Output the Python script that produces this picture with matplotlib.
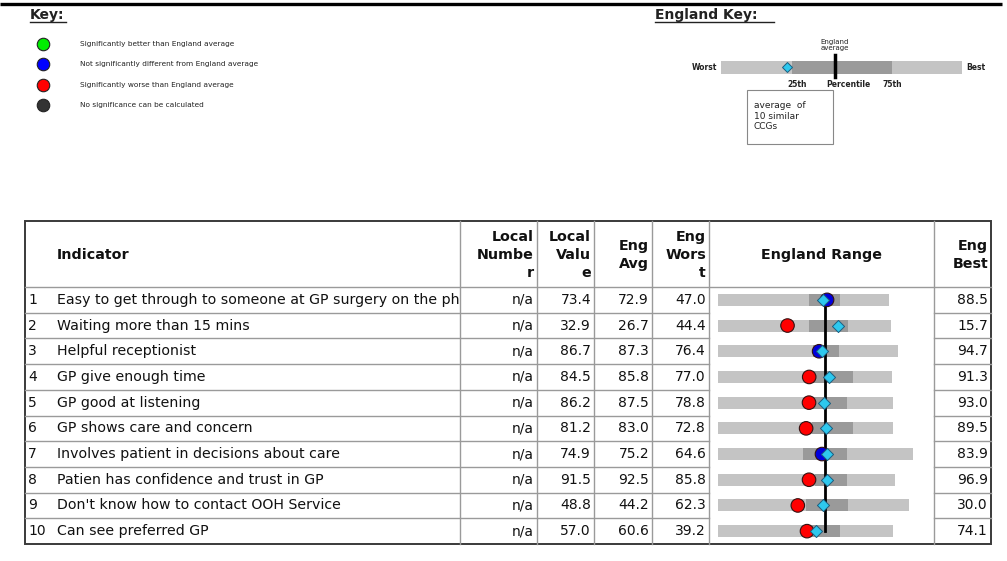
import numpy as np
import matplotlib
matplotlib.use('Agg')
import matplotlib.pyplot as plt
from matplotlib.patches import Rectangle
from matplotlib.transforms import Bbox, TransformedBbox

# table data
indicators = ['Easy to get through to someone at GP surgery on the phone',
              'Waiting more than 15 mins',
              'Helpful receptionist',
              'GP give enough time',
              'GP good at listening',
              'GP shows care and concern',
              'Involves patient in decisions about care',
              'Patien has confidence and trust in GP',
              "Don't know how to contact OOH Service",
              'Can see preferred GP']
local_number = ['n/a'] * 10
local_value = [73.4, 32.9, 86.7, 84.5, 86.2, 81.2, 74.9, 91.5, 48.8, 57.0]
eng_avg = [72.9, 26.7, 87.3, 85.8, 87.5, 83.0, 75.2, 92.5, 44.2, 60.6]
eng_worst = [47.0, 44.4, 76.4, 77.0, 78.8, 72.8, 64.6, 85.8, 62.3, 39.2]
eng_best = [88.5, 15.7, 94.7, 91.3, 93.0, 89.5, 83.9, 96.9, 30.0, 74.1]
# estimated from the spine chart
eng_p25 = [69.0, 29.3, 86.1, 84.7, 86.4, 81.8, 73.0, 91.9, 47.4, 58.0]
eng_p75 = [76.5, 22.9, 88.7, 88.1, 89.3, 85.7, 77.4, 93.9, 40.3, 63.6]
similar_avg = [72.4, 24.6, 87.0, 86.1, 87.4, 83.1, 75.4, 92.6, 44.5, 58.8]
significance = ['same', 'worse', 'same', 'worse', 'worse', 'worse', 'same', 'worse', 'worse', 'worse']

sig_colors = {'better': '#00ee00', 'same': '#0000dd', 'worse': '#ff0000', 'none': '#333333'}
key_labels = ['Significantly better than England average',
              'Not significantly different from England average',
              'Significantly worse than England average',
              'No significance can be calculated']
key_colors = ['#00ee00', '#0000ff', '#ff0000', '#333333']

light = '#c4c4c4'
dark = '#9a9a9a'
cyan = '#2ec8ee'
line_c = '#9a9a9a'
border_c = '#3a3a3a'

fig = plt.figure(figsize=(10.07, 5.61), dpi=100)
ax = fig.add_axes([0, 0, 1, 1])
ax.set_xlim(0, 1007)
ax.set_ylim(561, 0)
ax.axis('off')

# top rule
ax.plot([0, 1002], [4, 4], color='black', lw=2.4, solid_capstyle='butt')

# ---- Key ----
ax.text(30, 15, 'Key:', fontsize=10, fontweight='bold', va='center', color='#222222')
ax.plot([30, 66], [22, 22], color='#222222', lw=1)
for i, (lab, c) in enumerate(zip(key_labels, key_colors)):
    yy = 44 + i * 20.3
    ax.plot(43, yy, 'o', ms=9, mfc=c, mec='#222222', mew=0.8)
    ax.text(80, yy, lab, fontsize=5.3, va='center', color='#222222')

# ---- England Key ----
ax.text(655, 15, 'England Key:', fontsize=10, fontweight='bold', va='center', color='#222222')
ax.plot([655, 774], [22, 22], color='#222222', lw=1)
ax.add_patch(Rectangle((721, 61), 241, 13, color=light, lw=0))
ax.add_patch(Rectangle((792, 61), 100, 13, color=dark, lw=0))
ax.plot([835, 835], [55, 77], color='black', lw=2.5)
ax.plot(787, 67, 'D', ms=5, mfc=cyan, mec='#1c5e80', mew=0.7)
ax.text(717, 67, 'Worst', fontsize=5.5, fontweight='bold', ha='right', va='center', color='#222222')
ax.text(966, 67, 'Best', fontsize=5.5, fontweight='bold', ha='left', va='center', color='#222222')
ax.text(835, 45, 'England\naverage', fontsize=5, ha='center', va='center', color='#222222', linespacing=1.0)
ax.text(797, 84, '25th', fontsize=5.5, fontweight='bold', ha='center', va='center', color='#222222')
ax.text(848, 84, 'Percentile', fontsize=5.5, fontweight='bold', ha='center', va='center', color='#222222')
ax.text(892, 84, '75th', fontsize=5.5, fontweight='bold', ha='center', va='center', color='#222222')
ax.add_patch(Rectangle((747, 90), 86, 54, fill=False, ec='#888888', lw=0.8))
ax.text(754, 116, 'average  of\n10 similar\nCCGs', fontsize=6.5, ha='left', va='center', color='#222222', linespacing=1.25)

# ---- Table ----
col_x = [25, 460, 537, 594, 652, 709, 934, 991]
top, head_bot, row_h = 221, 287, 25.7
n = len(indicators)
bottom = head_bot + n * row_h
row_y = [head_bot + (i + 0.5) * row_h for i in range(n)]

# inner vertical lines
for x in col_x[1:-1]:
    ax.plot([x, x], [top, bottom], color=line_c, lw=1)
# header bottom line
ax.plot([col_x[0], col_x[-1]], [head_bot, head_bot], color=line_c, lw=1)
# row lines (not through range column)
for i in range(1, n):
    yy = head_bot + i * row_h
    ax.plot([col_x[0], col_x[5]], [yy, yy], color=line_c, lw=1)
    ax.plot([col_x[6], col_x[7]], [yy, yy], color=line_c, lw=1)
# outer border
ax.add_patch(Rectangle((col_x[0], top), col_x[-1] - col_x[0], bottom - top,
                       fill=False, ec=border_c, lw=1.4))

hdr = dict(fontsize=10.3, fontweight='bold', va='center', color='#111111', linespacing=1.4)
hy = (top + head_bot) / 2 + 1
ax.text(57, hy, 'Indicator', ha='left', **hdr)
ax.text(col_x[2] - 3, hy, 'Local\nNumbe\nr', ha='right', multialignment='right', **hdr)
ax.text(col_x[3] - 3, hy, 'Local\nValu\ne', ha='right', multialignment='right', **hdr)
ax.text(col_x[4] - 3, hy, 'Eng\nAvg', ha='right', multialignment='right', **hdr)
ax.text(col_x[5] - 3, hy, 'Eng\nWors\nt', ha='right', multialignment='right', **hdr)
ax.text((col_x[5] + col_x[6]) / 2, hy, 'England Range', ha='center', **hdr)
ax.text(col_x[7] - 3, hy, 'Eng\nBest', ha='right', multialignment='right', **hdr)

clip = TransformedBbox(Bbox([[col_x[0], 0], [col_x[1], 561]]), ax.transData)
cell = dict(fontsize=10, va='center', color='#111111')
for i in range(n):
    yy = row_y[i]
    ax.text(28, yy, str(i + 1), ha='left', **cell)
    t = ax.text(57, yy, indicators[i], ha='left', fontsize=10.2, va='center', color='#111111')
    t.set_clip_box(clip)
    t.set_clip_on(True)
    ax.text(col_x[2] - 3, yy, local_number[i], ha='right', **cell)
    ax.text(col_x[3] - 3, yy, '%.1f' % local_value[i], ha='right', **cell)
    ax.text(col_x[4] - 3, yy, '%.1f' % eng_avg[i], ha='right', **cell)
    ax.text(col_x[5] - 3, yy, '%.1f' % eng_worst[i], ha='right', **cell)
    ax.text(col_x[7] - 3, yy, '%.1f' % eng_best[i], ha='right', **cell)

# ---- spine chart (worst -> 0, England average -> 1) ----
W, H = 1007.0, 561.0
sax = fig.add_axes([col_x[5] / W, (H - bottom) / H, (col_x[6] - col_x[5]) / W, (bottom - head_bot) / H])
sax.set_xlim((col_x[5] - 718) / 107.0, (col_x[6] - 718) / 107.0)
sax.set_ylim(n - 0.5, -0.5)
sax.axis('off')
sax.patch.set_alpha(0)

worst = np.array(eng_worst)
avg = np.array(eng_avg)
def pos(v):
    return (np.array(v) - worst) / (avg - worst)

rows = np.arange(n)
sax.barh(rows, pos(eng_best), left=0, height=0.47, color=light, lw=0, zorder=1)
sax.barh(rows, pos(eng_p75) - pos(eng_p25), left=pos(eng_p25), height=0.47, color=dark, lw=0, zorder=2)
sax.plot([1, 1], [0, n - 1], color='black', lw=2, zorder=3)
sax.scatter(pos(local_value), rows, s=95, c=[sig_colors[s] for s in significance],
            edgecolors='#331111', linewidths=0.8, zorder=4)
sax.scatter(pos(similar_avg), rows, s=38, marker='D', c=cyan, edgecolors='#1c5e80',
            linewidths=0.7, zorder=5)

plt.savefig('out.png', dpi=100)
plt.close()
